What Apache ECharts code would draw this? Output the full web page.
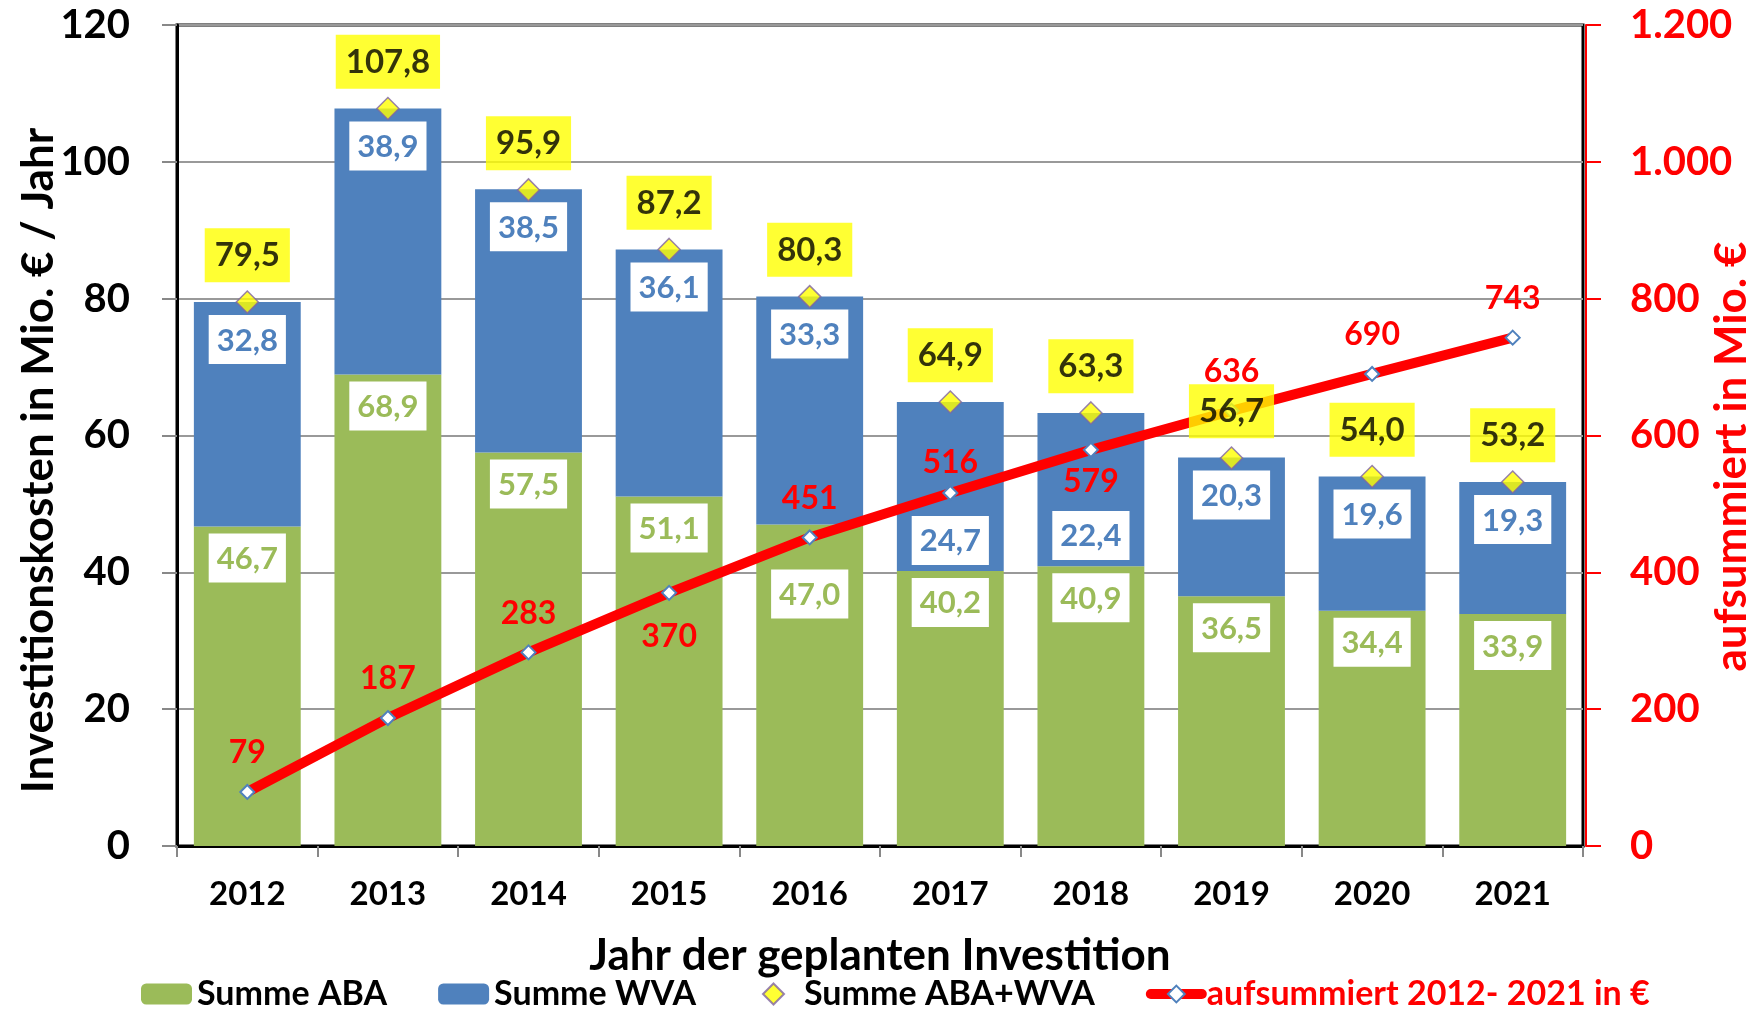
<!DOCTYPE html>
<html>
<head>
<meta charset="utf-8">
<script src="https://cdn.jsdelivr.net/npm/echarts@6/dist/echarts.min.js"></script>
<style>
html,body{margin:0;padding:0;background:#fff;}
#chart{width:1764px;height:1009px;}
</style>
</head>
<body>
<div id="chart"></div>
<script>
// ---- data ----
const years = ['2012','2013','2014','2015','2016','2017','2018','2019','2020','2021'];
const summeABA = [46.7, 68.9, 57.5, 51.1, 47.0, 40.2, 40.9, 36.5, 34.4, 33.9];
const summeWVA = [32.8, 38.9, 38.5, 36.1, 33.3, 24.7, 22.4, 20.3, 19.6, 19.3];
const summeTotal = [79.5, 107.8, 95.9, 87.2, 80.3, 64.9, 63.3, 56.7, 54.0, 53.2];
const aufsummiert = [79, 187, 283, 370, 451, 516, 579, 636, 690, 743];
const leftTicks = [0, 20, 40, 60, 80, 100, 120];
const rightTicks = [0, 200, 400, 600, 800, 1000, 1200];

// ---- label placement tweaks (style only) ----
const greenExtraOffset = {4: 38};
const blueExtraOffset = {5: 101, 6: 85};
const lineLabelPlace = {3: ['bottom', 20], 5: ['top', 6], 6: ['bottom', 8]};

const FONT = 'Lato';
const GREEN = '#9BBB59', BLUE = '#4F81BD', RED = '#FF0000';
const fmtDE = v => String(v).replace(/\B(?=(\d{3})+(?!\d))/g, '.');
const fmtComma = v => v.toFixed(1).replace('.', ',');

const chart = echarts.init(document.getElementById('chart'));

const boxLabel = (color, dist) => ({
  show: true, position: 'insideTop', distance: dist,
  fontFamily: FONT, fontWeight: 'bold', fontSize: 31, color: color,
  backgroundColor: '#fff', padding: [10, 8, 8, 8],
  formatter: p => fmtComma(p.value)
});

// legend diamond drawn inside a 51x21 box so it keeps its shape
const legendDiamond = 'path://M0,0M51,21M25.5,0L36,10.5L25.5,21L15,10.5Z';

chart.setOption({
  backgroundColor: '#fff',
  animation: false,
  textStyle: {fontFamily: FONT},
  grid: {left: 177, right: 181, top: 25, bottom: 163, show: true, borderColor: '#000', borderWidth: 3,
    backgroundColor: 'transparent', containLabel: false, outerBoundsMode: 'none'},
  legend: {
    top: 972, left: 136, itemWidth: 51, itemHeight: 21, itemGap: 51,
    textStyle: {fontFamily: FONT, fontWeight: 'bold', fontSize: 34, color: '#000'},
    lineStyle: {width: 'inherit'},
    data: [
      {name: 'Summe ABA'},
      {name: 'Summe WVA'},
      {name: 'Summe ABA+WVA', icon: legendDiamond},
      {name: 'aufsummiert 2012- 2021 in €', textStyle: {color: RED}}
    ]
  },
  xAxis: {
    type: 'category', data: years,
    name: 'Jahr der geplanten Investition', nameLocation: 'middle', nameGap: 88, nameMoveOverlap: false,
    nameTextStyle: {fontFamily: FONT, fontWeight: 'bold', fontSize: 44, color: '#000'},
    axisLine: {show: true, lineStyle: {color: '#000', width: 3}},
    axisTick: {show: true, length: 11, lineStyle: {color: '#888', width: 2}},
    axisLabel: {margin: 32, fontFamily: FONT, fontWeight: 'bold', fontSize: 33, color: '#000'}
  },
  yAxis: [
    {
      type: 'value', min: leftTicks[0], max: leftTicks[leftTicks.length-1], interval: leftTicks[1]-leftTicks[0],
      name: 'Investitionskosten in Mio. € / Jahr', nameLocation: 'middle', nameGap: 116, nameRotate: 90, nameMoveOverlap: false,
      nameTextStyle: {fontFamily: FONT, fontWeight: 'bold', fontSize: 44, color: '#000', padding: [0, 50, 0, 0]},
      axisLine: {show: true, lineStyle: {color: '#000', width: 3}},
      axisTick: {show: true, length: 15, lineStyle: {color: '#888', width: 2}},
      axisLabel: {margin: 47, fontFamily: FONT, fontWeight: 'bold', fontSize: 40, color: '#000'},
      splitLine: {show: true, lineStyle: {color: '#999', width: 2}}
    },
    {
      type: 'value', min: rightTicks[0], max: rightTicks[rightTicks.length-1], interval: rightTicks[1]-rightTicks[0],
      position: 'right', offset: 3,
      name: 'aufsummiert in Mio. €', nameLocation: 'middle', nameGap: 124, nameRotate: 90, nameMoveOverlap: false,
      nameTextStyle: {fontFamily: FONT, fontWeight: 'bold', fontSize: 44, color: RED, padding: [0, 42, 0, 0]},
      axisLine: {show: true, lineStyle: {color: RED, width: 2}},
      axisTick: {show: true, length: 15, lineStyle: {color: RED, width: 2}},
      axisLabel: {margin: 44, fontFamily: FONT, fontWeight: 'bold', fontSize: 40, color: RED, formatter: v => fmtDE(v)},
      splitLine: {show: false}
    }
  ],
  series: [
    {
      name: 'Summe ABA', type: 'bar', stack: 'inv', barCategoryGap: '24%',
      itemStyle: {color: GREEN},
      label: boxLabel(GREEN, 7), z: 2,
      data: summeABA.map((v, i) => greenExtraOffset[i] ? {value: v, label: {offset: [0, greenExtraOffset[i]]}} : v)
    },
    {
      name: 'Summe WVA', type: 'bar', stack: 'inv', barCategoryGap: '24%',
      itemStyle: {color: BLUE},
      label: boxLabel(BLUE, 13), z: 2,
      data: summeWVA.map((v, i) => blueExtraOffset[i] ? {value: v, label: {offset: [0, blueExtraOffset[i]]}} : v)
    },
    {
      name: 'aufsummiert 2012- 2021 in €', type: 'line', yAxisIndex: 1, z: 5,
      lineStyle: {color: RED, width: 10, cap: 'round'},
      itemStyle: {color: '#fff', borderColor: BLUE, borderWidth: 2},
      symbol: 'diamond', symbolSize: 14, showAllSymbol: true,
      label: {show: true, position: 'top', distance: 15, fontFamily: FONT, fontWeight: 'bold', fontSize: 32, color: RED},
      data: aufsummiert.map((v, i) => lineLabelPlace[i] ? {value: v, label: {position: lineLabelPlace[i][0], distance: lineLabelPlace[i][1]}} : v)
    },
    {
      name: 'Summe ABA+WVA', type: 'scatter', z: 6,
      symbol: 'diamond', symbolSize: 22,
      itemStyle: {color: '#FFFF00', borderColor: '#8064A2', borderWidth: 1.5},
      label: {show: true, position: 'top', distance: 8, fontFamily: FONT, fontWeight: 'bold', fontSize: 33, color: '#000',
        backgroundColor: '#FFFF00', padding: [11, 10, 10, 10], formatter: p => fmtComma(p.value)},
      data: summeTotal
    }
  ]
});
</script>
</body>
</html>
